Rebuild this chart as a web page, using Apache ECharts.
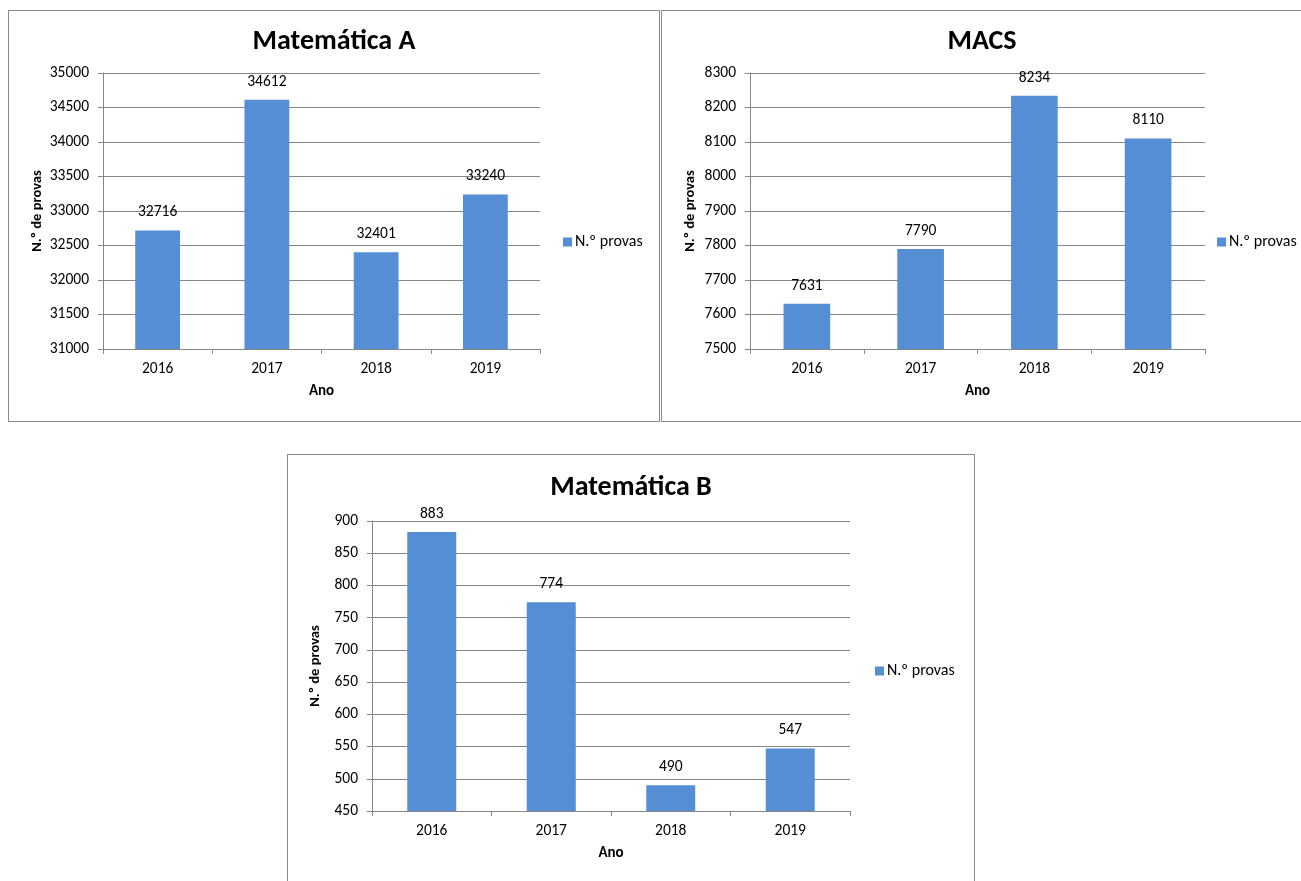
<!DOCTYPE html>
<html>
<head>
<meta charset="utf-8">
<script src="https://cdn.jsdelivr.net/npm/echarts@6/dist/echarts.min.js"></script>
<style>
  body { margin: 0; background: #fff; width: 1301px; height: 881px; position: relative; overflow: hidden; }
  .panel { position: absolute; border: 1px solid #8a8a8a; box-sizing: border-box; background: #fff; }
</style>
</head>
<body>
<div id="chartA" class="panel" style="left:8px; top:10px; width:652px; height:412px"></div>
<div id="chartM" class="panel" style="left:661px; top:10px; width:642px; height:412px"></div>
<div id="chartB" class="panel" style="left:287px; top:454px; width:688px; height:440px"></div>
<script>
// dados
const years = ["2016", "2017", "2018", "2019"];
const matAValues = [32716, 34612, 32401, 33240];
const macsValues = [7631, 7790, 8234, 8110];
const matBValues = [883, 774, 490, 547];
const seriesName = "N.º provas";
const yAxisTitle = "N.º de provas";
const xAxisTitle = "Ano";

const FONT = "Carlito, Calibri, Lato, sans-serif";
const BAR = "#558ed5";
const GRID = "#878787";

function drawChart(id, title, values, yMin, yMax, yStep, layout) {
  const myChart = echarts.init(document.getElementById(id));
  const option = {
    animation: false,
    textStyle: { fontFamily: FONT },
    title: {
      text: title,
      left: "center",
      top: layout.titleTop,
      textStyle: { fontFamily: FONT, fontSize: 28, fontWeight: "bold", color: "#000" },
    },
    legend: {
      data: [seriesName],
      left: layout.legendLeft,
      top: layout.legendTop,
      icon: "rect",
      itemWidth: 9,
      itemHeight: 9,
      itemGap: 4,
      textStyle: { fontFamily: FONT, fontSize: 16, color: "#000", padding: [0, 0, 0, -2] },
    },
    grid: {
      left: layout.left,
      top: layout.top,
      width: layout.width,
      height: layout.height,
      containLabel: false,
    },
    xAxis: {
      type: "category",
      data: years,
      name: xAxisTitle,
      nameLocation: "middle",
      nameGap: 35,
      nameTextStyle: { fontFamily: FONT, fontSize: 15, fontWeight: "bold", color: "#000" },
      axisLine: { lineStyle: { color: GRID } },
      axisTick: { show: true, length: 5, lineStyle: { color: GRID } },
      axisLabel: { fontFamily: FONT, fontSize: 15.5, color: "#000", margin: 12 },
    },
    yAxis: {
      type: "value",
      min: yMin,
      max: yMax,
      interval: yStep,
      name: yAxisTitle,
      nameLocation: "middle",
      nameRotate: 90,
      nameGap: layout.nameGap,
      nameMoveOverlap: false,
      nameTextStyle: { fontFamily: FONT, fontSize: 14.5, fontWeight: "bold", color: "#000" },
      axisLine: { show: true, lineStyle: { color: GRID } },
      axisTick: { show: true, length: 5, lineStyle: { color: GRID } },
      axisLabel: {
        fontFamily: FONT,
        fontSize: 15.5,
        color: "#000",
        margin: 14,
        formatter: (v) => String(v),
      },
      splitLine: { show: true, lineStyle: { color: GRID, width: 1 } },
    },
    series: [
      {
        name: seriesName,
        type: "bar",
        data: values,
        barWidth: "41%",
        itemStyle: { color: BAR },
        label: {
          show: true,
          position: "top",
          distance: 10,
          fontFamily: FONT,
          fontSize: 15.5,
          color: "#000",
        },
      },
    ],
  };
  myChart.setOption(option);
}

drawChart("chartA", "Matemática A", matAValues, 31000, 35000, 500, {
  left: 94, top: 62, width: 437, height: 276, nameGap: 58,
  titleTop: 12, legendLeft: 549, legendTop: 218,
});
drawChart("chartM", "MACS", macsValues, 7500, 8300, 100, {
  left: 88, top: 62, width: 455, height: 276, nameGap: 52,
  titleTop: 12, legendLeft: 550, legendTop: 218,
});
drawChart("chartB", "Matemática B", matBValues, 450, 900, 50, {
  left: 84, top: 66, width: 478, height: 290, nameGap: 49,
  titleTop: 14, legendLeft: 582, legendTop: 203,
});
</script>
</body>
</html>
